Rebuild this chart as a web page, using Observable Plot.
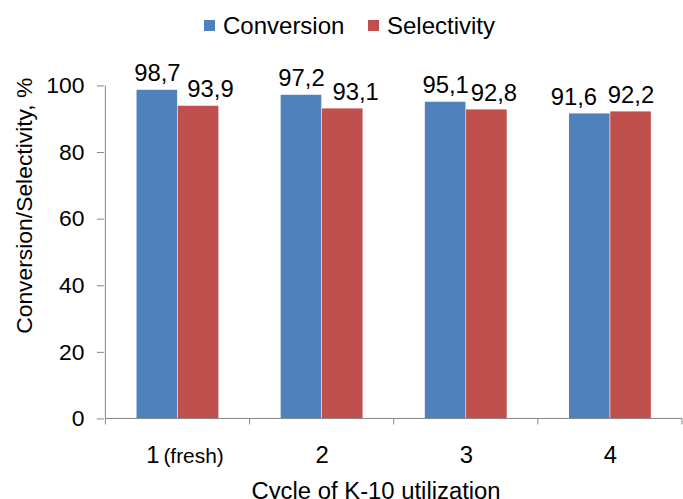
<!DOCTYPE html>
<html><head><meta charset="utf-8">
<script src="https://cdn.jsdelivr.net/npm/d3@7"></script>
<script src="https://cdn.jsdelivr.net/npm/@observablehq/plot@0.6"></script>
<style>
html,body{margin:0;padding:0;background:#fff;overflow:hidden;width:683px;height:499px;}
body{font-family:"Liberation Sans",Arial,sans-serif;}
#legend{position:relative;height:40px;}
.item{position:absolute;top:12px;display:flex;align-items:center;font-size:24px;color:#000;line-height:27px;}
.sw{width:11px;height:11px;margin-right:8px;}
#chart svg{display:block;overflow:visible;}
</style></head><body>
<div id="legend"></div>
<div id="chart"></div>
<script>
const cycles = ["1 (fresh)", "2", "3", "4"];
const series = ["Conversion", "Selectivity"];
const conversion = [98.7, 97.2, 95.1, 91.6];
const selectivity = [93.9, 93.1, 92.8, 92.2];
const yTicks = [0, 20, 40, 60, 80, 100];
const colors = ["#4F81BD", "#C0504D"];
const yTitle = "Conversion/Selectivity, %";
const xTitle = "Cycle of K-10 utilization";

const rows = cycles.flatMap((c, i) => [
  {cycle: c, series: series[0], value: conversion[i], i},
  {cycle: c, series: series[1], value: selectivity[i], i}
]);

// layout (styling)
const W = 687, H = 459, mL = 104.5, mR = 0, mT = 45.7, mB = 78.3;
const bw = (W - mL - mR) / cycles.length;
const barW = 41.5;
const side = (bw - 2 * barW) / 2;
const nudge = {Conversion: [0, 0, 0, -16], Selectivity: [12, 13, 7, 0]};
const fmt = v => v.toFixed(1).replace(".", ",");

// legend
const legend = document.getElementById("legend");
const legendX = [204, 368];
series.forEach((s, k) => {
  const it = document.createElement("div");
  it.className = "item";
  it.style.left = legendX[k] + "px";
  it.innerHTML = `<span class="sw" style="background:${colors[k]}"></span><span>${s}</span>`;
  legend.appendChild(it);
});

const frameLines = (...args) => {
  const sc = args.find(a => a && typeof a.x === "function" && typeof a.y === "function");
  const x = sc.x, y = sc.y;
  const b = typeof x.bandwidth === "function" ? x.bandwidth() : bw;
  const xs = cycles.map(c => x(c)).concat([x(cycles[cycles.length - 1]) + b]);
  const y0 = y(0), yTop = y(100);
  const g = d3.create("svg:g").attr("stroke", "#868686").attr("stroke-width", 1).attr("fill", "none");
  g.append("line").attr("x1", xs[0]).attr("x2", xs[0]).attr("y1", y0).attr("y2", yTop);
  g.append("line").attr("x1", xs[0]).attr("x2", xs[xs.length - 1]).attr("y1", y0).attr("y2", y0);
  xs.forEach(v => g.append("line").attr("x1", v).attr("x2", v).attr("y1", y0).attr("y2", y0 + 6));
  return g.node();
};

const labelMarks = rows.map(d => {
  const isConv = d.series === series[0];
  const base = isConv ? -barW / 2 : barW / 2;
  return Plot.text([d], {
    x: "cycle", y: "value", text: r => fmt(r.value),
    dx: base + nudge[d.series][d.i], dy: -9,
    lineAnchor: "bottom", fontSize: 24, fill: "#000"
  });
});

const chart = Plot.plot({
  width: W, height: H,
  marginLeft: mL, marginRight: mR, marginTop: mT, marginBottom: mB,
  style: {fontFamily: "'Liberation Sans', Arial, sans-serif", background: "#fff", overflow: "visible"},
  x: {domain: cycles, padding: 0, paddingInner: 0, paddingOuter: 0},
  y: {domain: [0, 100]},
  marks: [
    Plot.barY(rows.filter(d => d.series === series[0]), {
      x: "cycle", y: "value", fill: colors[0], insetLeft: side, insetRight: bw - side - barW
    }),
    Plot.barY(rows.filter(d => d.series === series[1]), {
      x: "cycle", y: "value", fill: colors[1], insetLeft: side + barW, insetRight: side
    }),
    frameLines,
    Plot.axisY({
      ticks: yTicks, tickSize: 7, tickPadding: 13, fontSize: 23,
      stroke: "#868686", fill: "#000", label: null
    }),
    Plot.axisX({tickSize: 0, tickPadding: 27, fontSize: 24, fill: "#000", label: null}),
    Plot.text([yTitle], {frameAnchor: "left", rotate: -90, dx: -80.5, dy: -47, textAnchor: "middle", lineAnchor: "middle", fontSize: 23, fill: "#000"}),
    Plot.text([xTitle], {frameAnchor: "bottom", dx: -18, dy: 81, lineAnchor: "bottom", fontSize: 24, fill: "#000"}),
    ...labelMarks
  ]
});
document.getElementById("chart").appendChild(chart);

// split "1 (fresh)" tick label into two sizes
chart.querySelectorAll("text").forEach(t => {
  if (t.textContent === cycles[0]) {
    t.textContent = "";
    const a = document.createElementNS("http://www.w3.org/2000/svg", "tspan");
    a.textContent = "1";
    const b = document.createElementNS("http://www.w3.org/2000/svg", "tspan");
    b.textContent = "(fresh)";
    b.setAttribute("font-size", "21");
    b.setAttribute("dx", "4");
    t.appendChild(a); t.appendChild(b);
    t.setAttribute("dx", "7");
  }
});
</script>
</body></html>
